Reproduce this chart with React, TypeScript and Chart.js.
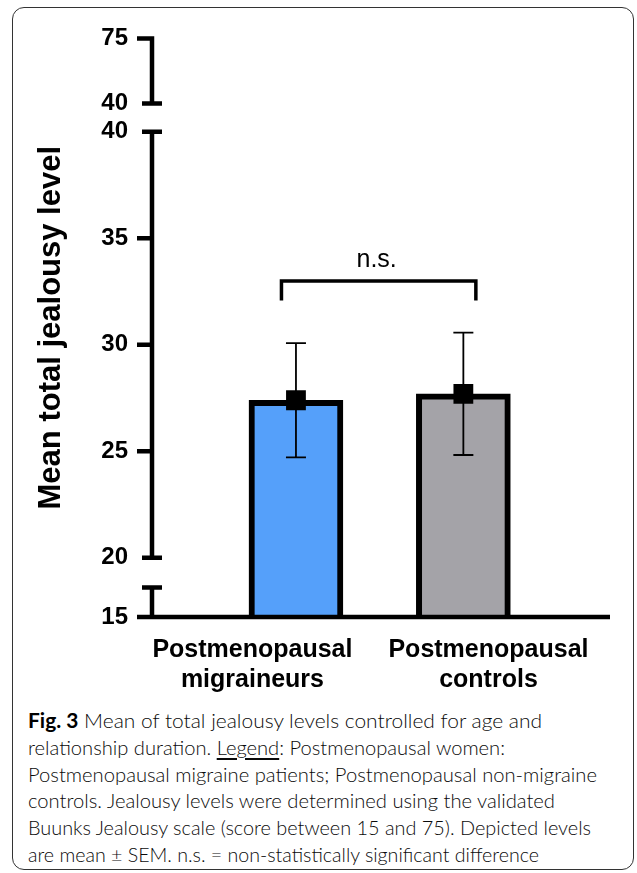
import React, { useEffect, useLayoutEffect, useRef } from 'react';
import { Chart, registerables, LinearScale } from 'chart.js';

// ---------------- data ----------------
const CATEGORY_LABELS: string[][] = [
  ['Postmenopausal', 'migraineurs'],
  ['Postmenopausal', 'controls'],
];
const CATEGORY_X: number[] = [1, 2];
const CATEGORY_LABEL_X: number[] = [0.74, 2.15];
const MEANS: number[] = [27.4, 27.7];
const SEMS: number[] = [2.68, 2.87];
const BAR_COLORS: string[] = ['#55A0FA', '#A4A3A8'];
const Y_TITLE = 'Mean total jealousy level';
const Y_TICK_VALUES: number[] = [15, 20, 25, 30, 35, 40, 40, 75];
const Y_TICK_SEGMENT: number[] = [0, 1, 1, 1, 1, 1, 2, 2];
// broken y axis: value range of each segment and its share of the axis height
const SEG_MIN: number[] = [15, 20, 40];
const SEG_MAX: number[] = [20, 40, 75];
const SEG_FROM: number[] = [0, 0.1022, 0.8875];
const SEG_TO: number[] = [0.1022, 0.8385, 1];
const SEG_DRAWN_MAX: number[] = [17.5, 40, 75];
const SIG_LABEL = 'n.s.';
const SIG_Y = 33;
const X_MIN = 0.14;
const X_MAX = 2.876;

type Part = { t: string; b?: boolean; u?: boolean };
const CAPTION_LINES: Part[][] = [
  [{ t: 'Fig. 3', b: true }, { t: ' Mean of total jealousy levels controlled for age and' }],
  [{ t: 'relationship duration. ' }, { t: 'Legend', u: true }, { t: ': Postmenopausal women:' }],
  [{ t: 'Postmenopausal migraine patients; Postmenopausal non-migraine' }],
  [{ t: 'controls. Jealousy levels were determined using the validated' }],
  [{ t: 'Buunks Jealousy scale (score between 15 and 75). Depicted levels' }],
  [{ t: 'are mean \u00b1 SEM. n.s. = non-statistically significant difference' }],
];
const CAPTION_WIDTHS: number[] = [514, 477, 569, 527, 563, 511];
const CAPTION_BASELINES: number[] = [728.3, 755, 781.7, 808.3, 835, 861.7];

// ---------------- broken scale ----------------
class BrokenLinearScale extends LinearScale {
  static id = 'brokenLinear';
  static defaults = {};
  _segOf(value: number) {
    for (let i = 0; i < SEG_MIN.length; i++) if (value <= SEG_MAX[i]) return i;
    return SEG_MIN.length - 1;
  }
  pixelIn(value: number, seg?: number) {
    const s = seg === undefined || seg === null ? this._segOf(value) : seg;
    const f = SEG_FROM[s] + ((value - SEG_MIN[s]) / (SEG_MAX[s] - SEG_MIN[s])) * (SEG_TO[s] - SEG_FROM[s]);
    return this.bottom - f * (this.bottom - this.top);
  }
  getPixelForValue(value: number) {
    return this.pixelIn(value);
  }
  getPixelForTick(index: number) {
    const t: any = (this as any).ticks[index];
    return t ? this.pixelIn(t.value, t.seg) : NaN;
  }
  getValueForPixel(pixel: number) {
    const f = (this.bottom - pixel) / (this.bottom - this.top);
    for (let s = 0; s < SEG_MIN.length; s++) {
      if (f <= SEG_TO[s] || s === SEG_MIN.length - 1) {
        return SEG_MIN[s] + ((f - SEG_FROM[s]) / (SEG_TO[s] - SEG_FROM[s])) * (SEG_MAX[s] - SEG_MIN[s]);
      }
    }
    return NaN;
  }
  buildTicks() {
    return Y_TICK_VALUES.map((v, i) => ({ value: v, seg: Y_TICK_SEGMENT[i] })) as any;
  }
}

Chart.register(...registerables, BrokenLinearScale as any);

const drawPlugin = {
  id: 'brokenAxisErrorBars',
  afterDatasetsDraw(chart: any) {
    const { ctx, chartArea } = chart;
    const ys: any = chart.scales.y;
    const xs: any = chart.scales.x;
    const ax = chartArea.left;
    const lw = 4.5;
    const last = SEG_MIN.length - 1;
    ctx.save();
    ctx.strokeStyle = '#000';
    ctx.fillStyle = '#000';
    ctx.lineCap = 'butt';

    // error bars (mean ± SEM)
    ctx.lineWidth = 1.8;
    ctx.beginPath();
    MEANS.forEach((m, i) => {
      const px = xs.getPixelForValue(CATEGORY_X[i]);
      const hi = ys.getPixelForValue(m + SEMS[i]);
      const lo = ys.getPixelForValue(m - SEMS[i]);
      ctx.moveTo(px, hi);
      ctx.lineTo(px, lo);
      ctx.moveTo(px - 10, hi);
      ctx.lineTo(px + 10, hi);
      ctx.moveTo(px - 10, lo);
      ctx.lineTo(px + 10, lo);
    });
    ctx.stroke();

    // broken y axis pieces
    ctx.lineWidth = lw;
    ctx.beginPath();
    for (let s = 0; s <= last; s++) {
      const top = ys.pixelIn(SEG_DRAWN_MAX[s], s);
      const bot = ys.pixelIn(SEG_MIN[s], s);
      ctx.moveTo(ax, top - lw / 2);
      ctx.lineTo(ax, bot + lw / 2);
    }
    // caps at the breaks
    for (let s = 0; s <= last; s++) {
      if (s > 0) {
        const y = ys.pixelIn(SEG_MIN[s], s);
        ctx.moveTo(ax - 10, y);
        ctx.lineTo(ax + 10, y);
      }
      if (s < last) {
        const y = ys.pixelIn(SEG_DRAWN_MAX[s], s);
        ctx.moveTo(ax - 10, y);
        ctx.lineTo(ax + 10, y);
      }
    }
    // tick marks
    ys.ticks.forEach((t: any, i: number) => {
      const s = t.seg;
      const isCap = (s > 0 && t.value === SEG_MIN[s]) || (s < last && t.value === SEG_DRAWN_MAX[s]);
      if (isCap) return;
      const y = ys.getPixelForTick(i);
      ctx.moveTo(ax - 15, y);
      ctx.lineTo(ax + lw / 2, y);
    });
    // x axis line
    const yb = ys.getPixelForValue(SEG_MIN[0]);
    ctx.moveTo(ax - 15, yb);
    ctx.lineTo(chartArea.right, yb);
    ctx.stroke();

    // significance bracket
    const x1 = xs.getPixelForValue(CATEGORY_X[0]) - 14.5;
    const x2 = xs.getPixelForValue(CATEGORY_X[1]) + 12.5;
    const yBr = ys.getPixelForValue(SIG_Y);
    ctx.lineWidth = 3.5;
    ctx.lineJoin = 'miter';
    ctx.beginPath();
    ctx.moveTo(x1, yBr + 19.5);
    ctx.lineTo(x1, yBr);
    ctx.lineTo(x2, yBr);
    ctx.lineTo(x2, yBr + 19.5);
    ctx.stroke();
    ctx.font = '25px "Liberation Sans", Arial, sans-serif';
    ctx.textAlign = 'center';
    ctx.textBaseline = 'alphabetic';
    ctx.fillText(SIG_LABEL, (x1 + x2) / 2 - 2, yBr - 14);
    ctx.restore();
  },
};

export default function App() {
  const canvasRef = useRef<HTMLCanvasElement | null>(null);
  const lineRefs = useRef<(HTMLSpanElement | null)[]>([]);

  useEffect(() => {
    const canvas = canvasRef.current;
    if (!canvas) return;
    const pts = MEANS.map((m, i) => ({ x: CATEGORY_X[i], y: m }));
    const chart = new Chart(canvas, {
      type: 'bar',
      data: {
        datasets: [
          {
            type: 'scatter',
            data: pts,
            pointStyle: 'rect',
            pointRadius: 14,
            pointHoverRadius: 14,
            backgroundColor: '#000',
            borderColor: '#000',
            borderWidth: 0,
            order: 1,
          } as any,
          {
            type: 'bar',
            data: pts,
            backgroundColor: BAR_COLORS,
            borderColor: '#000',
            borderWidth: 6,
            borderSkipped: 'start',
            barThickness: 94,
            base: SEG_MIN[0],
            order: 2,
          } as any,
        ],
      },
      options: {
        responsive: false,
        animation: false,
        devicePixelRatio: 1,
        events: [],
        layout: { padding: { left: 0, right: 27, top: 35, bottom: 5 } },
        plugins: { legend: { display: false }, tooltip: { enabled: false } },
        scales: {
          x: {
            type: 'linear',
            offset: false,
            min: X_MIN,
            max: X_MAX,
            grid: { display: false, drawTicks: false, tickLength: 0, offset: false },
            border: { display: false },
            afterBuildTicks: (s: any) => {
              s.ticks = CATEGORY_LABEL_X.map((v) => ({ value: v }));
            },
            afterFit: (s: any) => {
              s.height = 83;
            },
            ticks: {
              autoSkip: false,
              maxRotation: 0,
              minRotation: 0,
              padding: 17.5,
              color: '#000',
              font: { family: '"Liberation Sans", Arial, sans-serif', size: 25, weight: 'bold', lineHeight: 1.22 },
              callback: (_v: any, index: number) => CATEGORY_LABELS[index] ?? '',
            },
          } as any,
          y: {
            type: 'brokenLinear',
            min: SEG_MIN[0],
            max: SEG_MAX[SEG_MAX.length - 1],
            grid: { display: false, drawTicks: false, tickLength: 0 },
            border: { display: false },
            afterFit: (s: any) => {
              s.width = 152;
            },
            title: {
              display: true,
              text: Y_TITLE,
              color: '#000',
              font: { family: '"Liberation Sans", Arial, sans-serif', size: 31, weight: 'bold', lineHeight: 1.2 },
              padding: { top: 32.4, bottom: 0 },
            },
            ticks: {
              autoSkip: false,
              padding: 24,
              color: '#000',
              font: { family: '"Liberation Sans", Arial, sans-serif', size: 24, weight: 'bold' },
              callback: (v: any) => String(v),
            },
          } as any,
        },
      },
      plugins: [drawPlugin],
    });
    return () => chart.destroy();
  }, []);

  useLayoutEffect(() => {
    lineRefs.current.forEach((el, i) => {
      if (!el) return;
      el.style.transform = 'none';
      const w = el.getBoundingClientRect().width;
      if (w > 0) el.style.transform = `scaleX(${CAPTION_WIDTHS[i] / w})`;
    });
  }, []);

  return (
    <div style={{ position: 'absolute', left: 0, top: 0, width: 637, height: 873, background: '#fff', overflow: 'hidden' }}>
      <div
        style={{
          position: 'absolute',
          left: 12,
          top: 7,
          width: 622,
          height: 863,
          border: '1.5px solid #333',
          borderRadius: 12,
          boxSizing: 'border-box',
        }}
      />
      <canvas
        ref={canvasRef}
        width={637}
        height={705}
        style={{ position: 'absolute', left: 0, top: 0, width: 637, height: 705 }}
      />
      {CAPTION_LINES.map((parts, i) => (
        <div
          key={i}
          style={{
            position: 'absolute',
            left: 28,
            top: CAPTION_BASELINES[i] - 21.1,
            lineHeight: '26.7px',
            fontSize: 20,
            fontWeight: 300,
            fontFamily: 'Lato, "Open Sans", sans-serif',
            color: '#0A0A0A',
            whiteSpace: 'nowrap',
          }}
        >
          <span
            ref={(el) => {
              lineRefs.current[i] = el;
            }}
            style={{ display: 'inline-block', transformOrigin: '0 0' }}
          >
            {parts.map((p, j) => (
              <span
                key={j}
                style={{
                  fontWeight: p.b ? 700 : undefined,
                  color: p.b ? '#000' : undefined,
                  textDecoration: p.u ? 'underline' : undefined,
                  textDecorationThickness: p.u ? '2px' : undefined,
                  textUnderlineOffset: p.u ? '3px' : undefined,
                }}
              >
                {p.t}
              </span>
            ))}
          </span>
        </div>
      ))}
    </div>
  );
}
